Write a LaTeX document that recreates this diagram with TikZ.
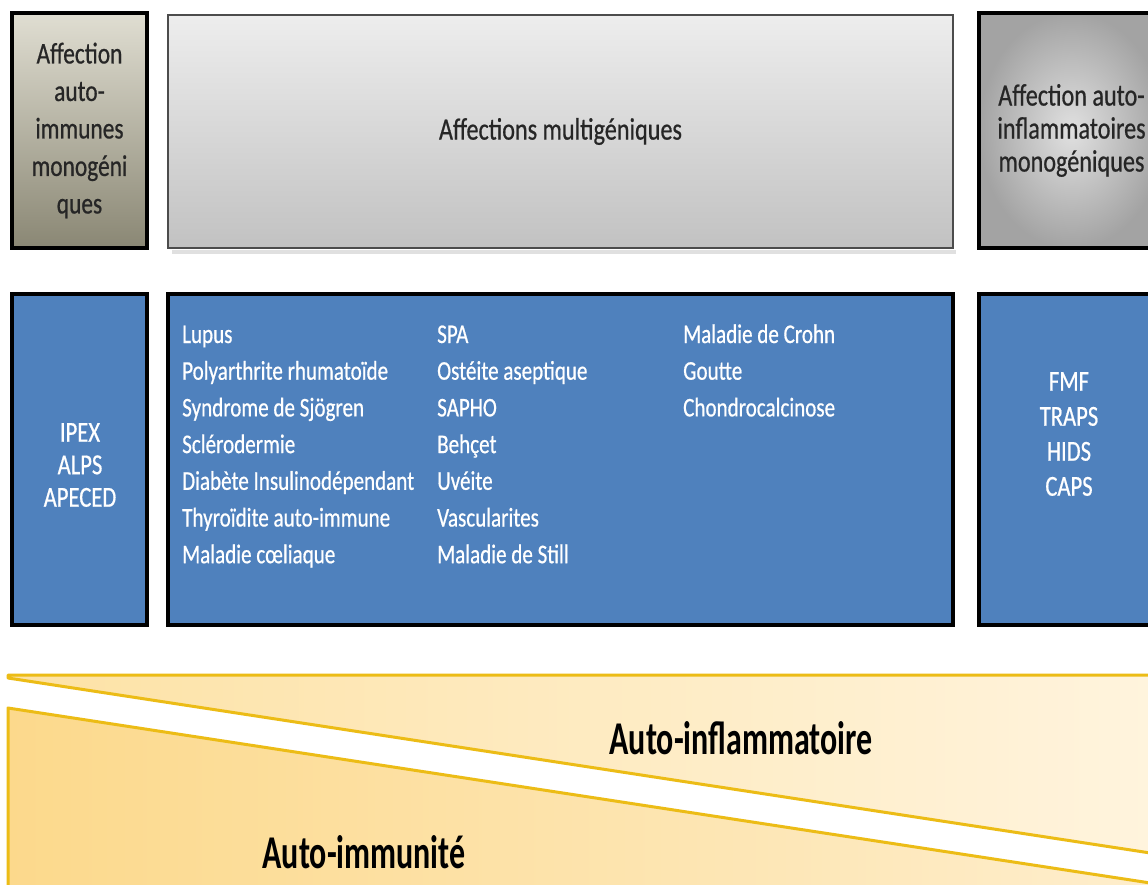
\documentclass[tikz,border=0pt]{standalone}
\usepackage{fontspec}
\setmainfont[FakeStretch=0.78,FakeBold=0.6]{Carlito}
\newfontfamily\bandfont[FakeStretch=0.68]{Carlito}
\definecolor{boxblue}{RGB}{79,129,189}
\definecolor{olivetop}{RGB}{224,222,210}
\definecolor{olivebot}{RGB}{138,135,116}
\definecolor{gold}{RGB}{236,188,22}
\definecolor{upleft}{RGB}{253,226,165}
\definecolor{upright}{RGB}{255,244,222}
\definecolor{lowleft}{RGB}{252,217,140}
\definecolor{lowright}{RGB}{254,238,205}

\begin{document}
\begin{tikzpicture}[x=1pt,y=-1pt,
  blackbox/.style={draw=black, line width=4pt, inner sep=0pt},
  bluebox/.style={blackbox, fill=boxblue},
  headtext/.style={text=black!85, align=center, font=\fontsize{31}{33}\selectfont},
  boxtext/.style={text=white, align=center, font=\fontsize{29}{33}\selectfont},
  listtext/.style={text=white, anchor=base west, inner sep=0pt, font=\fontsize{27}{32}\selectfont},
  bandtext/.style={text=black, font=\bandfont\bfseries\fontsize{47}{50}\selectfont}]
\useasboundingbox (0,0) rectangle (1148,885);
\fill[white] (0,0) rectangle (1148,885);
\clip (0,0) rectangle (1148,885);

% top row
\node[blackbox, minimum width=135pt, minimum height=235pt,
  top color=olivetop, bottom color=olivebot, headtext,
  font=\fontsize{30}{37.5}\selectfont] (monoai) at (79.5,130.5)
  {Affection\\auto-\\immunes\\monogéni\\ques};
\fill[black!12] (172,250) rectangle (956,254);
\node[draw=black!70, line width=2.5pt, minimum width=785pt, minimum height=233pt,
  top color=black!7, bottom color=black!24, headtext] (multi) at (560.5,131.5)
  {Affections multigéniques};
\node[blackbox, minimum width=185pt, minimum height=235pt,
  inner color=black!12, outer color=black!36, headtext] (monoinf) at (1071.5,130.5)
  {Affection auto-\\inflammatoires\\monogéniques};

% second row
\node[bluebox, minimum width=135pt, minimum height=331pt] (ailist) at (79.5,459.5) {};
\node[bluebox, minimum width=785pt, minimum height=331pt] (multilist) at (560.5,459.5) {};
\node[bluebox, minimum width=185pt, minimum height=331pt] (inflist) at (1071.5,459.5) {};
\node[boxtext, font=\fontsize{29}{32.5}\selectfont] (aitext) at (80,465) {IPEX\\ALPS\\APECED};
\node[boxtext, font=\fontsize{29}{35}\selectfont] (inftext) at (1069,434) {FMF\\TRAPS\\HIDS\\CAPS};
\foreach \t [count=\i] in {Lupus, Polyarthrite rhumatoïde, Syndrome de Sjögren,
    Sclérodermie, Diabète Insulinodépendant, Thyroïdite auto-immune, Maladie cœliaque}
  \node[listtext] (ca\i) at (182,{343+36.7*(\i-1)}) {\t};
\foreach \t [count=\i] in {SPA, Ostéite aseptique, SAPHO, Behçet, Uvéite,
    Vascularites, Maladie de Still}
  \node[listtext] (cb\i) at (437,{343+36.7*(\i-1)}) {\t};
\foreach \t [count=\i] in {Maladie de Crohn, Goutte, Chondrocalcinose}
  \node[listtext] (cc\i) at (683,{343+36.7*(\i-1)}) {\t};

% bottom wedges
\fill[left color=upleft, right color=upright] (8,675) -- (1170,675) -- (1170,856) -- (8,678) -- cycle;
\draw[gold, line width=3pt, line join=round] (1170,675) -- (8,675) -- (8,678) -- (1170,856);
\fill[left color=lowleft, right color=lowright] (8,708) -- (1170,886) -- (1170,900) -- (8,900) -- cycle;
\draw[gold, line width=3pt, line join=round] (8,900) -- (8,708) -- (1170,886);
\node[bandtext] (infl) at (741,738) {Auto-inflammatoire};
\node[bandtext] (immu) at (364,852) {Auto-immunité};
\end{tikzpicture}
\end{document}
